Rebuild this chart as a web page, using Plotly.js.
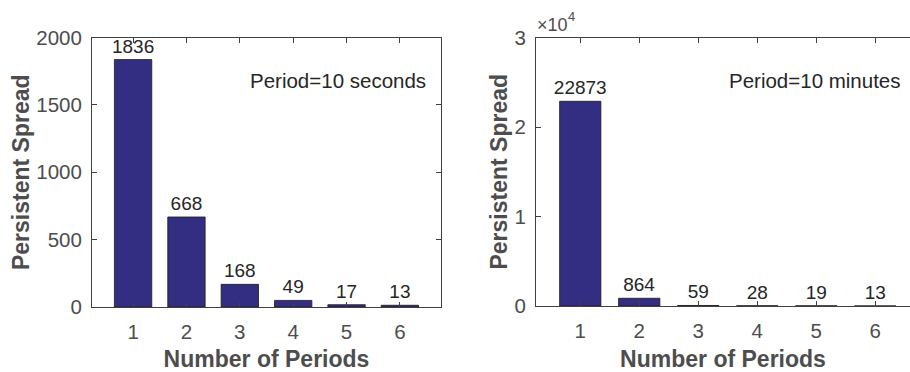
<!DOCTYPE html>
<html>
<head>
<meta charset="utf-8">
<script src="https://cdn.plot.ly/plotly-3.0.1.min.js"></script>
<style>
  html, body { margin: 0; padding: 0; background: #fff; }
  #chart { width: 910px; height: 372px; }
</style>
</head>
<body>
<div id="chart"></div>
<script>
// ---- data ----
const periods = [1, 2, 3, 4, 5, 6];
const spreadSeconds = [1836, 668, 168, 49, 17, 13];
const spreadMinutes = [22873, 864, 59, 28, 19, 13];
const yTicksLeft = [0, 500, 1000, 1500, 2000];
const yTicksRight = [0, 10000, 20000, 30000];
const yTickTextRight = ['0', '1', '2', '3'];
const labelLeft = 'Period=10 seconds';
const labelRight = 'Period=10 minutes';
const xTitle = 'Number of Periods';
const yTitle = 'Persistent Spread';

// ---- styles ----
const FONT = '"Liberation Sans", Arial, Helvetica, sans-serif';
const AX = '#4d4d4d';
const LINE = '#404040';
const BAR = '#342e82';

function barTrace(y, xa, ya) {
  return {
    type: 'bar', x: periods, y: y, xaxis: xa, yaxis: ya,
    width: 0.7,
    marker: { color: BAR, line: { color: '#1a1a1a', width: 0.8 } },
    text: y.map(String), textposition: 'outside', constraintext: 'none',
    cliponaxis: false,
    textfont: { family: FONT, size: 19, color: '#262626' },
    hoverinfo: 'skip', showlegend: false
  };
}

function xAxis(domain, range, anchor) {
  return {
    domain: domain, range: range, anchor: anchor,
    tickvals: periods, ticktext: periods.map(String),
    ticks: 'inside', ticklen: 5, tickcolor: LINE, tickwidth: 1,
    showline: true, linecolor: LINE, linewidth: 1, mirror: 'ticks',
    showgrid: false, zeroline: false,
    tickfont: { family: FONT, size: 20.5, color: AX },
    ticklabelstandoff: 6,
    title: { text: xTitle, font: { family: FONT, size: 23, color: AX, weight: 'bold' }, standoff: 16 },
    fixedrange: true
  };
}

function yAxis(domain, range, anchor, tickvals, ticktext, mirror) {
  return {
    domain: domain, range: range, anchor: anchor,
    tickvals: tickvals, ticktext: ticktext,
    ticks: 'inside', ticklen: 5, tickcolor: LINE, tickwidth: 1,
    showline: true, linecolor: LINE, linewidth: 1, mirror: mirror,
    showgrid: false, zeroline: false,
    tickfont: { family: FONT, size: 20.5, color: AX },
    ticklabelstandoff: 5,
    title: { text: yTitle, font: { family: FONT, size: 23, color: AX, weight: 'bold' }, standoff: 0 },
    fixedrange: true
  };
}

const W = 910, H = 372;
const data = [
  barTrace(spreadSeconds, 'x', 'y'),
  barTrace(spreadMinutes, 'x2', 'y2')
];

const layout = {
  width: W, height: H,
  margin: { l: 0, r: 0, t: 0, b: 0 },
  paper_bgcolor: '#fff', plot_bgcolor: '#fff',
  font: { family: FONT, color: AX },
  bargap: 0,
  xaxis: xAxis([92 / W, 441 / W], [0.23, 6.77], 'y'),
  yaxis: yAxis([(H - 307) / H, (H - 37.5) / H], [0, 2000], 'x', yTicksLeft, yTicksLeft.map(String), 'ticks'),
  xaxis2: xAxis([536 / W, 1.0], [0.25, 6.59], 'y2'),
  yaxis2: yAxis([(H - 306) / H, (H - 37.5) / H], [0, 30000], 'x2', yTicksRight, yTickTextRight, false),
  annotations: [
    { xref: 'paper', yref: 'paper', x: 248 / W, y: (H - 80) / H, xanchor: 'left', yanchor: 'middle',
      text: labelLeft, showarrow: false, font: { family: FONT, size: 20.5, color: '#262626' } },
    { xref: 'paper', yref: 'paper', x: 727 / W, y: (H - 80) / H, xanchor: 'left', yanchor: 'middle',
      text: labelRight, showarrow: false, font: { family: FONT, size: 20.5, color: '#262626' } },
    { xref: 'paper', yref: 'paper', x: 535 / W, y: (H - 25) / H, xanchor: 'left', yanchor: 'middle',
      text: '×10', showarrow: false, font: { family: FONT, size: 18, color: AX } },
    { xref: 'paper', yref: 'paper', x: 566 / W, y: (H - 17) / H, xanchor: 'left', yanchor: 'middle',
      text: '4', showarrow: false, font: { family: FONT, size: 13, color: AX } }
  ]
};

Plotly.newPlot('chart', data, layout, { displayModeBar: false, staticPlot: true });
</script>
</body>
</html>
